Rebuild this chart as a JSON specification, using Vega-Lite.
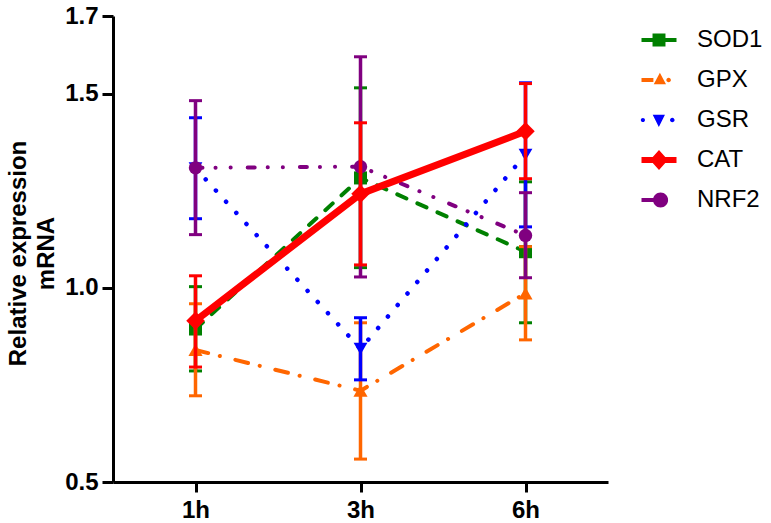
{
  "$schema": "https://vega.github.io/schema/vega-lite/v6.json",
  "width": 495,
  "height": 466,
  "autosize": {"type": "none"},
  "padding": {"left": 113, "top": 16, "right": 163, "bottom": 41},
  "background": "white",
  "config": {
    "view": {"stroke": null},
    "font": "Liberation Sans",
    "axis": {
      "labelFontSize": 24, "labelFontWeight": "bold", "labelFont": "Liberation Sans",
      "labelColor": "black", "tickWidth": 3, "tickColor": "black",
      "domainWidth": 3, "domainColor": "black", "grid": false
    }
  },
  "data": {
    "values": [
      {"time": "1h", "gene": "SOD1", "mean": 0.894, "lo": 0.786, "hi": 1.003},
      {"time": "3h", "gene": "SOD1", "mean": 1.283, "lo": 1.052, "hi": 1.515},
      {"time": "6h", "gene": "SOD1", "mean": 1.093, "lo": 0.910, "hi": 1.273},
      {"time": "1h", "gene": "GPX", "mean": 0.840, "lo": 0.722, "hi": 0.959},
      {"time": "3h", "gene": "GPX", "mean": 0.735, "lo": 0.559, "hi": 0.910},
      {"time": "6h", "gene": "GPX", "mean": 0.986, "lo": 0.866, "hi": 1.106},
      {"time": "1h", "gene": "GSR", "mean": 1.308, "lo": 1.178, "hi": 1.438},
      {"time": "3h", "gene": "GSR", "mean": 0.843, "lo": 0.763, "hi": 0.923},
      {"time": "6h", "gene": "GSR", "mean": 1.343, "lo": 1.157, "hi": 1.528},
      {"time": "1h", "gene": "CAT", "mean": 0.915, "lo": 0.796, "hi": 1.031},
      {"time": "3h", "gene": "CAT", "mean": 1.242, "lo": 1.059, "hi": 1.425},
      {"time": "6h", "gene": "CAT", "mean": 1.403, "lo": 1.281, "hi": 1.526},
      {"time": "1h", "gene": "NRF2", "mean": 1.309, "lo": 1.137, "hi": 1.482},
      {"time": "3h", "gene": "NRF2", "mean": 1.312, "lo": 1.028, "hi": 1.595},
      {"time": "6h", "gene": "NRF2", "mean": 1.135, "lo": 1.026, "hi": 1.245}
    ]
  },
  "encoding": {
    "x": {
      "field": "time", "type": "ordinal",
      "scale": {"type": "point", "padding": 0.5, "domain": ["1h", "3h", "6h"]},
      "axis": {"title": null, "labelAngle": 0, "labelPadding": 6, "tickSize": 10}
    }
  },
  "layer": [
    {
      "transform": [{"filter": {"field": "gene", "equal": "SOD1"}}],
      "layer": [
        {
          "mark": {"type": "rule", "strokeWidth": 3.5, "color": "#008000"},
          "encoding": {
            "y": {
              "field": "lo", "type": "quantitative",
              "scale": {"domain": [0.5, 1.7], "nice": false, "zero": false},
              "axis": {
                "values": [0.5, 1.0, 1.5, 1.7], "format": ".1f",
                "title": ["Relative expression", "mRNA"],
                "titleFontSize": 24, "titleFont": "Liberation Sans", "titleFontWeight": "bold",
                "titleLineHeight": 28, "titleX": -88, "titleY": 237, "titleBaseline": "alphabetic",
                "titleAngle": 270, "titleAlign": "center", "titleColor": "black",
                "labelPadding": 4, "labelFlush": false, "tickSize": 11
              }
            },
            "y2": {"field": "hi"}
          }
        },
        {"mark": {"type": "tick", "thickness": 3, "size": 13, "opacity": 1, "color": "#008000"}, "encoding": {"y": {"field": "lo", "type": "quantitative"}}},
        {"mark": {"type": "tick", "thickness": 3, "size": 13, "opacity": 1, "color": "#008000"}, "encoding": {"y": {"field": "hi", "type": "quantitative"}}},
        {"mark": {"type": "line", "strokeWidth": 4, "strokeDash": [10, 12], "strokeCap": "round", "color": "#008000"}, "encoding": {"y": {"field": "mean", "type": "quantitative"}}},
        {"mark": {"type": "point", "shape": "square", "size": 170, "filled": true, "opacity": 1, "strokeWidth": 0, "color": "#008000"}, "encoding": {"y": {"field": "mean", "type": "quantitative"}}}
      ]
    },
    {
      "transform": [{"filter": {"field": "gene", "equal": "GPX"}}],
      "layer": [
        {"mark": {"type": "rule", "strokeWidth": 3.5, "color": "#FF6600"}, "encoding": {"y": {"field": "lo", "type": "quantitative"}, "y2": {"field": "hi"}}},
        {"mark": {"type": "tick", "thickness": 3, "size": 13, "opacity": 1, "color": "#FF6600"}, "encoding": {"y": {"field": "lo", "type": "quantitative"}}},
        {"mark": {"type": "tick", "thickness": 3, "size": 13, "opacity": 1, "color": "#FF6600"}, "encoding": {"y": {"field": "hi", "type": "quantitative"}}},
        {"mark": {"type": "line", "strokeWidth": 4, "strokeDash": [13, 12, 0.1, 16], "strokeCap": "round", "color": "#FF6600"}, "encoding": {"y": {"field": "mean", "type": "quantitative"}}},
        {"mark": {"type": "point", "shape": "triangle-up", "size": 200, "filled": true, "opacity": 1, "strokeWidth": 0, "color": "#FF6600"}, "encoding": {"y": {"field": "mean", "type": "quantitative"}}}
      ]
    },
    {
      "transform": [{"filter": {"field": "gene", "equal": "GSR"}}],
      "layer": [
        {"mark": {"type": "rule", "strokeWidth": 3.5, "color": "#0000FF"}, "encoding": {"y": {"field": "lo", "type": "quantitative"}, "y2": {"field": "hi"}}},
        {"mark": {"type": "tick", "thickness": 3, "size": 13, "opacity": 1, "color": "#0000FF"}, "encoding": {"y": {"field": "lo", "type": "quantitative"}}},
        {"mark": {"type": "tick", "thickness": 3, "size": 13, "opacity": 1, "color": "#0000FF"}, "encoding": {"y": {"field": "hi", "type": "quantitative"}}},
        {"mark": {"type": "line", "strokeWidth": 4.5, "strokeDash": [0.1, 15], "strokeCap": "round", "color": "#0000FF"}, "encoding": {"y": {"field": "mean", "type": "quantitative"}}},
        {"mark": {"type": "point", "shape": "triangle-down", "size": 190, "filled": true, "opacity": 1, "strokeWidth": 0, "color": "#0000FF"}, "encoding": {"y": {"field": "mean", "type": "quantitative"}}}
      ]
    },
    {
      "transform": [{"filter": {"field": "gene", "equal": "NRF2"}}],
      "layer": [
        {"mark": {"type": "rule", "strokeWidth": 3.5, "color": "#800080"}, "encoding": {"y": {"field": "lo", "type": "quantitative"}, "y2": {"field": "hi"}}},
        {"mark": {"type": "tick", "thickness": 3, "size": 13, "opacity": 1, "color": "#800080"}, "encoding": {"y": {"field": "lo", "type": "quantitative"}}},
        {"mark": {"type": "tick", "thickness": 3, "size": 13, "opacity": 1, "color": "#800080"}, "encoding": {"y": {"field": "hi", "type": "quantitative"}}},
        {"mark": {"type": "line", "strokeWidth": 4, "strokeDash": [7, 13, 0.1, 15, 0.1, 17], "strokeCap": "round", "color": "#800080"}, "encoding": {"y": {"field": "mean", "type": "quantitative"}}},
        {"mark": {"type": "point", "shape": "circle", "size": 180, "filled": true, "opacity": 1, "strokeWidth": 0, "color": "#800080"}, "encoding": {"y": {"field": "mean", "type": "quantitative"}}}
      ]
    },
    {
      "transform": [{"filter": {"field": "gene", "equal": "CAT"}}],
      "layer": [
        {"mark": {"type": "rule", "strokeWidth": 3.5, "color": "#FF0000"}, "encoding": {"y": {"field": "lo", "type": "quantitative"}, "y2": {"field": "hi"}}},
        {"mark": {"type": "tick", "thickness": 3, "size": 13, "opacity": 1, "color": "#FF0000"}, "encoding": {"y": {"field": "lo", "type": "quantitative"}}},
        {"mark": {"type": "tick", "thickness": 3, "size": 13, "opacity": 1, "color": "#FF0000"}, "encoding": {"y": {"field": "hi", "type": "quantitative"}}},
        {"mark": {"type": "line", "strokeWidth": 7, "strokeCap": "round", "strokeJoin": "round", "color": "#FF0000"}, "encoding": {"y": {"field": "mean", "type": "quantitative"}}},
        {"mark": {"type": "point", "shape": "diamond", "size": 340, "filled": true, "opacity": 1, "strokeWidth": 0, "color": "#FF0000"}, "encoding": {"y": {"field": "mean", "type": "quantitative"}}}
      ]
    },
    {
      "transform": [{"filter": {"field": "time", "equal": "none"}}],
      "mark": {"type": "point", "filled": true, "size": 1225, "opacity": 1, "strokeWidth": 0},
      "encoding": {
        "color": {
          "field": "gene", "type": "nominal",
          "scale": {"domain": ["SOD1", "GPX", "GSR", "CAT", "NRF2"], "range": ["#008000", "#FF6600", "#0000FF", "#FF0000", "#800080"]},
          "legend": {
            "orient": "none", "legendX": 528.5, "legendY": 6.5, "title": null,
            "symbolSize": 1225, "labelFontSize": 24, "labelFont": "Liberation Sans",
            "labelFontWeight": "normal", "labelColor": "black",
            "labelOffset": 20.5, "rowPadding": 10, "padding": 0, "symbolStrokeWidth": 0, "symbolOpacity": 1
          }
        },
        "shape": {
          "field": "gene", "type": "nominal",
          "scale": {
            "domain": ["SOD1", "GPX", "GSR", "CAT", "NRF2"],
            "range": [
              "M-1,-0.12H1V0.12H-1Z M-0.37,-0.37H0.37V0.37H-0.37Z",
              "M-1,-0.12H-0.32V0.12H-1Z M0.05,-0.42L0.4,0.24L-0.3,0.24Z M0.42,0A0.13,0.13 0 1,1 0.68,0A0.13,0.13 0 1,1 0.42,0Z",
              "M-1.04,0A0.12,0.12 0 1,1 -0.8,0A0.12,0.12 0 1,1 -1.04,0Z M-0.36,-0.3H0.34L-0.01,0.4Z M0.63,0A0.13,0.13 0 1,1 0.89,0A0.13,0.13 0 1,1 0.63,0Z",
              "M-1,-0.17H1V0.17H-1Z M0,-0.57L0.51,0L0,0.57L-0.51,0Z",
              "M-1,-0.12H0.51V0.12H-1Z M-0.34,0A0.43,0.43 0 1,1 0.52,0A0.43,0.43 0 1,1 -0.34,0Z"
            ]
          },
          "legend": {
            "orient": "none", "legendX": 528.5, "legendY": 6.5, "title": null,
            "symbolSize": 1225, "labelFontSize": 24, "labelFont": "Liberation Sans",
            "labelFontWeight": "normal", "labelColor": "black",
            "labelOffset": 20.5, "rowPadding": 10, "padding": 0, "symbolStrokeWidth": 0, "symbolOpacity": 1
          }
        }
      }
    }
  ]
}
